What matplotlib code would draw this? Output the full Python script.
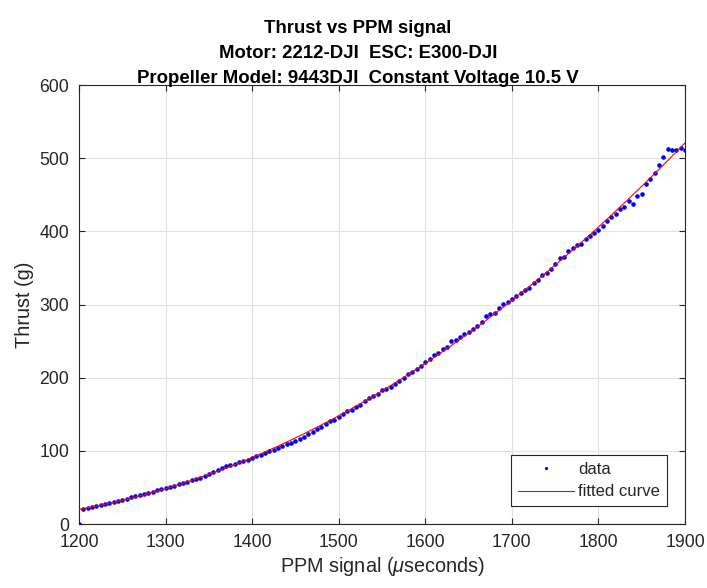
import numpy as np
import matplotlib
matplotlib.use("Agg")
import matplotlib.pyplot as plt

plt.rcParams['font.family'] = ['Liberation Sans', 'DejaVu Sans']
plt.rcParams['mathtext.fontset'] = 'custom'
plt.rcParams['mathtext.it'] = 'Liberation Sans:italic'
plt.rcParams['mathtext.rm'] = 'Liberation Sans'

ppm_start, ppm_stop, ppm_step = 1200, 1900, 5
thrust = [
    0.0, 20.0, 21.9, 23.2, 24.6, 25.5, 27.3, 28.7, 30.5, 31.9,
    33.3, 34.6, 36.4, 37.8, 39.2, 41.0, 42.4, 44.2, 46.0, 47.4,
    49.2, 51.0, 52.4, 54.2, 55.6, 57.4, 59.7, 61.5, 63.3, 66.0,
    68.5, 71.5, 74.5, 77.0, 78.8, 80.6, 82.5, 84.3, 86.6, 87.0,
    90.2, 92.5, 94.8, 97.5, 100.2, 101.6, 104.3, 106.6, 108.9, 110.2,
    113.4, 115.7, 118.9, 122.5, 126.2, 129.5, 132.3, 136.2, 140.3, 142.1,
    146.2, 149.9, 154.0, 156.2, 160.3, 162.6, 168.5, 172.6, 175.4, 178.1,
    182.7, 184.9, 187.7, 190.9, 195.0, 200.0, 205.5, 207.7, 211.8, 215.5,
    221.8, 225.1, 230.5, 234.1, 239.6, 242.4, 249.7, 251.0, 255.6, 259.7,
    262.4, 266.9, 270.6, 275.6, 284.7, 286.6, 288.4, 294.8, 301.1, 303.4,
    307.1, 311.2, 316.1, 320.0, 322.0, 330.0, 334.0, 340.0, 343.0, 348.0,
    356.0, 364.0, 365.0, 373.0, 377.0, 382.0, 383.0, 389.0, 394.0, 398.0,
    402.0, 408.0, 414.0, 420.0, 424.0, 430.0, 433.0, 441.0, 437.0, 449.0,
    451.0, 465.0, 471.0, 480.0, 491.0, 502.0, 512.0, 511.0, 511.0, 514.0,
    511.0,
]
ppm = np.arange(ppm_start, ppm_stop + ppm_step, ppm_step)
assert len(ppm) == len(thrust)
thrust = np.array(thrust)

xticks = [1200, 1300, 1400, 1500, 1600, 1700, 1800, 1900]
yticks = [0, 100, 200, 300, 400, 500, 600]

# quadratic fit through the measured points (excluding the zero start point)
coef = np.polyfit(ppm[1:], thrust[1:], 2)
xf = np.linspace(ppm_start, ppm_stop, 400)
yf = np.polyval(coef, xf)

fig = plt.figure(figsize=(7.07, 5.88), dpi=100)
ax = fig.add_axes([0.1117, 0.1088, 0.969 - 0.1117, 0.8554 - 0.1088])

dark = '#262626'
ax.plot(ppm, thrust, linestyle='none', marker='o', markersize=3.3,
        markerfacecolor='#0000ff', markeredgecolor='none', label='data', zorder=3)
ax.plot(xf, yf, color='#ff0000', linewidth=0.8, label='fitted curve', zorder=4)

ax.set_xlim(1200, 1900)
ax.set_ylim(0, 600)
ax.set_xticks(xticks)
ax.set_yticks(yticks)
ax.grid(True, color='#e1e1e1', linewidth=0.8)
ax.set_axisbelow(True)
ax.tick_params(direction='in', top=True, right=True, length=4.5, width=0.8,
               colors=dark, labelsize=12.7, pad=7)
for s in ax.spines.values():
    s.set_color(dark)
    s.set_linewidth(0.8)

ax.set_xlabel('PPM signal ($\\mu$seconds)', fontsize=14.3, color=dark, labelpad=3)
ax.set_ylabel('Thrust (g)', fontsize=14.3, color=dark, labelpad=4)
ax.set_title('Thrust vs PPM signal\nMotor: 2212-DJI  ESC: E300-DJI\n'
             'Propeller Model: 9443DJI  Constant Voltage 10.5 V',
             fontsize=13.4, fontweight='bold', color='black', linespacing=1.62,
             pad=1.5, x=0.46)

leg = ax.legend(loc='lower right', bbox_to_anchor=(0.970, 0.041), borderaxespad=0,
                fontsize=12, frameon=True, fancybox=False, edgecolor=dark,
                framealpha=1, handlelength=3.4, handletextpad=0.25,
                borderpad=0.4, labelspacing=0.45, markerscale=0.7)
leg.get_frame().set_linewidth(0.8)
for t in leg.get_texts():
    t.set_color(dark)

fig.savefig('out.png', dpi=100)
